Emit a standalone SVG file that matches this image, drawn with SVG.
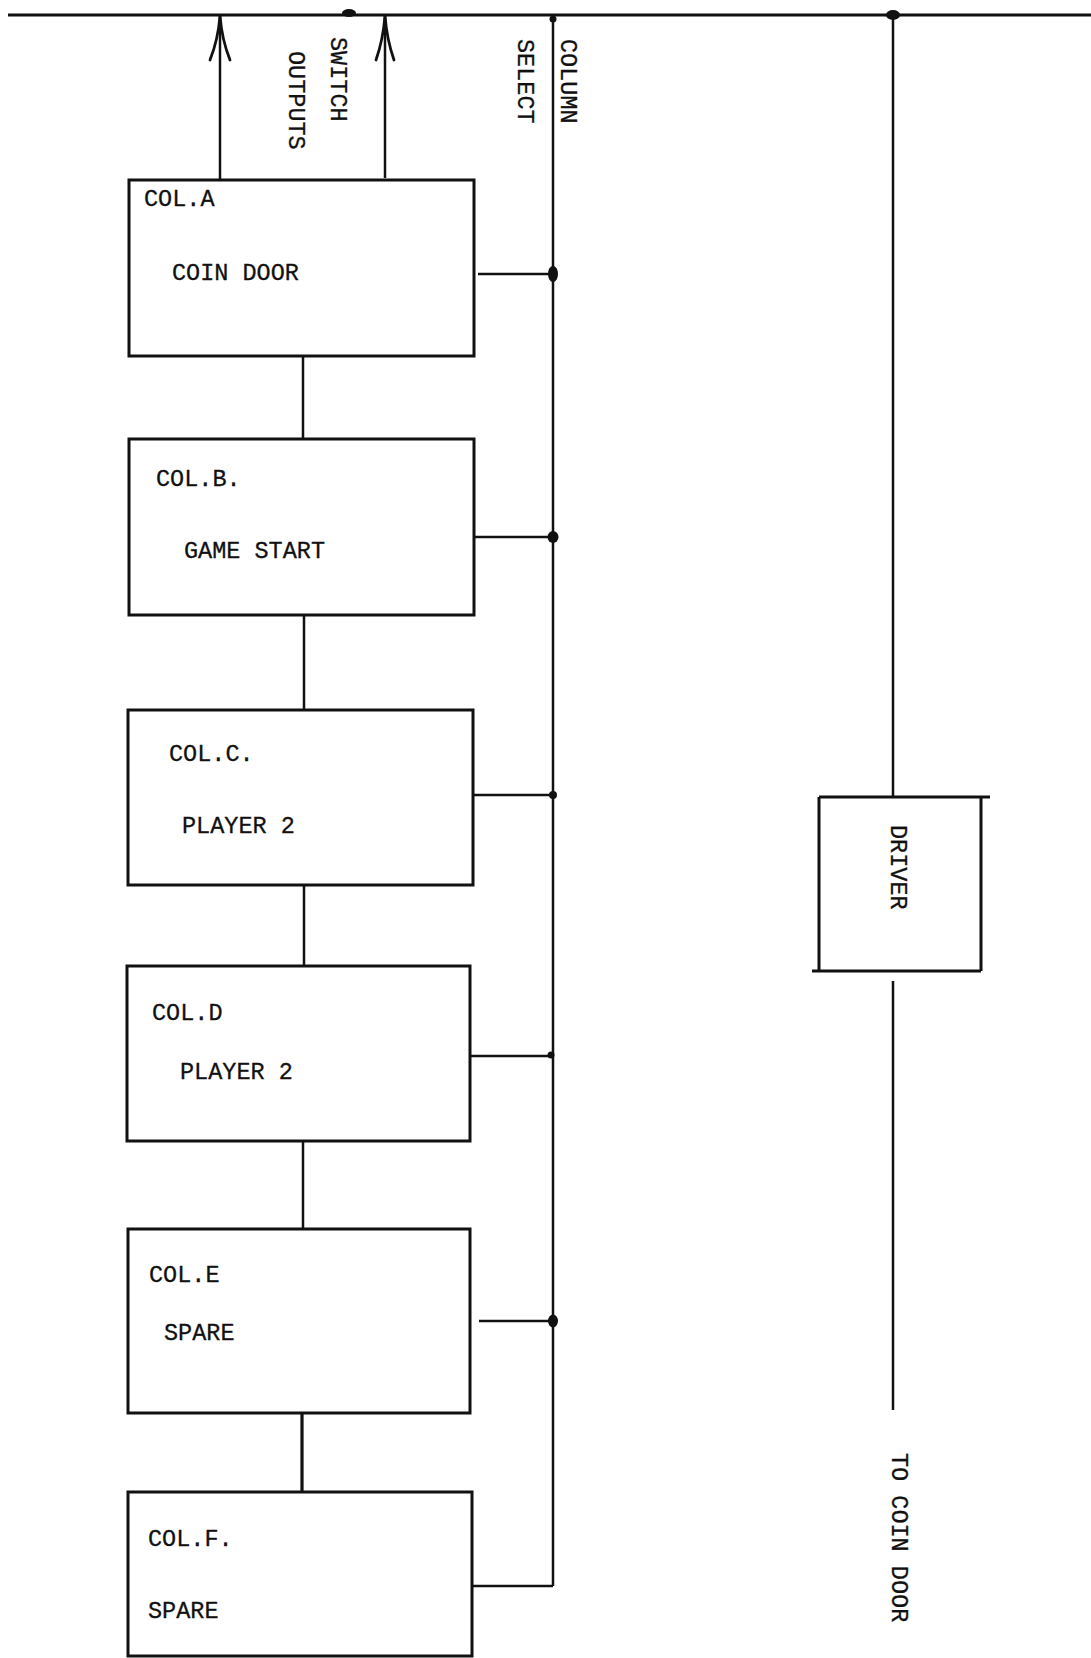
<svg xmlns="http://www.w3.org/2000/svg" width="1091" height="1658" viewBox="0 0 1091 1658">
<style>
.box{fill:none;stroke:#111;stroke-width:3}
.w{fill:none;stroke:#111;stroke-width:2.5}
.bus{fill:none;stroke:#111;stroke-width:3.2}
.ah{fill:none;stroke:#111;stroke-width:2.8;stroke-linecap:round}
.dot{fill:#111}
text{font-family:"Liberation Mono","DejaVu Sans Mono",monospace;font-size:23.5px;fill:#111;stroke:#111;stroke-width:0.3}
</style>
<rect width="1091" height="1658" fill="#fff"/>
<g id="connectors">
  <line class="bus" x1="8" y1="15" x2="1091" y2="15"/>
  <line class="w" x1="220" y1="15" x2="220" y2="180"/>
  <path class="ah" d="M210,60 Q218,40 220,16 Q222,40 230,60"/>
  <line class="w" x1="385" y1="15" x2="385" y2="178"/>
  <path class="ah" d="M376,60 Q383,40 385,16 Q387,40 394,60"/>
  <ellipse class="dot" cx="349" cy="13" rx="7" ry="4"/>
  <line class="w" x1="553" y1="15" x2="553" y2="1586"/>
  <polyline class="w" points="553,1586 472,1586"/>
  <circle class="dot" cx="553" cy="19" r="3.5"/>
  <line class="w" x1="893" y1="15" x2="893" y2="797"/>
  <ellipse class="dot" cx="893" cy="15" rx="7" ry="5"/>
  <line class="w" x1="893" y1="981" x2="893" y2="1410"/>
  <line class="w" x1="303" y1="356" x2="303" y2="439"/>
  <line class="w" x1="304" y1="615" x2="304" y2="710"/>
  <line class="w" x1="304" y1="885" x2="304" y2="966"/>
  <line class="w" x1="303" y1="1141" x2="303" y2="1229"/>
  <line class="bus" x1="302" y1="1413" x2="302" y2="1492"/>
  <line class="w" x1="478" y1="274" x2="553" y2="274"/>
  <ellipse class="dot" cx="553" cy="274" rx="5" ry="8"/>
  <line class="w" x1="474" y1="537" x2="553" y2="537"/>
  <ellipse class="dot" cx="553" cy="537" rx="5.5" ry="6"/>
  <line class="w" x1="473" y1="795" x2="553" y2="795"/>
  <circle class="dot" cx="553" cy="795" r="4"/>
  <line class="w" x1="470" y1="1056" x2="553" y2="1056"/>
  <circle class="dot" cx="551" cy="1055" r="3.5"/>
  <line class="w" x1="479" y1="1321" x2="553" y2="1321"/>
  <ellipse class="dot" cx="553" cy="1321" rx="5" ry="6.5"/>
</g>
<g id="labels">
  <text transform="rotate(90 331 37)" x="331" y="37">SWITCH</text>
  <text transform="rotate(90 289 51)" x="289" y="51">OUTPUTS</text>
  <text transform="rotate(90 561 39)" x="561" y="39">COLUMN</text>
  <text transform="rotate(90 518 39)" x="518" y="39">SELECT</text>
  <text transform="rotate(90 892 1453)" x="892" y="1453">TO COIN DOOR</text>
</g>
<g id="colA">
  <rect class="box" x="129" y="180" width="345" height="176"/>
  <text x="144" y="206">COL.A</text>
  <text x="172" y="280">COIN DOOR</text>
</g>
<g id="colB">
  <rect class="box" x="129" y="439" width="345" height="176"/>
  <text x="156" y="486">COL.B.</text>
  <text x="184" y="558">GAME START</text>
</g>
<g id="colC">
  <rect class="box" x="128" y="710" width="345" height="175"/>
  <text x="169" y="761">COL.C.</text>
  <text x="182" y="833">PLAYER 2</text>
</g>
<g id="colD">
  <rect class="box" x="127" y="966" width="343" height="175"/>
  <text x="152" y="1020">COL.D</text>
  <text x="180" y="1079">PLAYER 2</text>
</g>
<g id="colE">
  <rect class="box" x="128" y="1229" width="342" height="184"/>
  <text x="149" y="1282">COL.E</text>
  <text x="164" y="1340">SPARE</text>
</g>
<g id="colF">
  <rect class="box" x="128" y="1492" width="344" height="164"/>
  <text x="148" y="1546">COL.F.</text>
  <text x="148" y="1618">SPARE</text>
</g>
<g id="driver">
  <path class="box" d="M819,797 H990 M981,797 V971 M819,797 V971 M812,971 H981"/>
  <text transform="rotate(90 891 825)" x="891" y="825">DRIVER</text>
</g>
</svg>
